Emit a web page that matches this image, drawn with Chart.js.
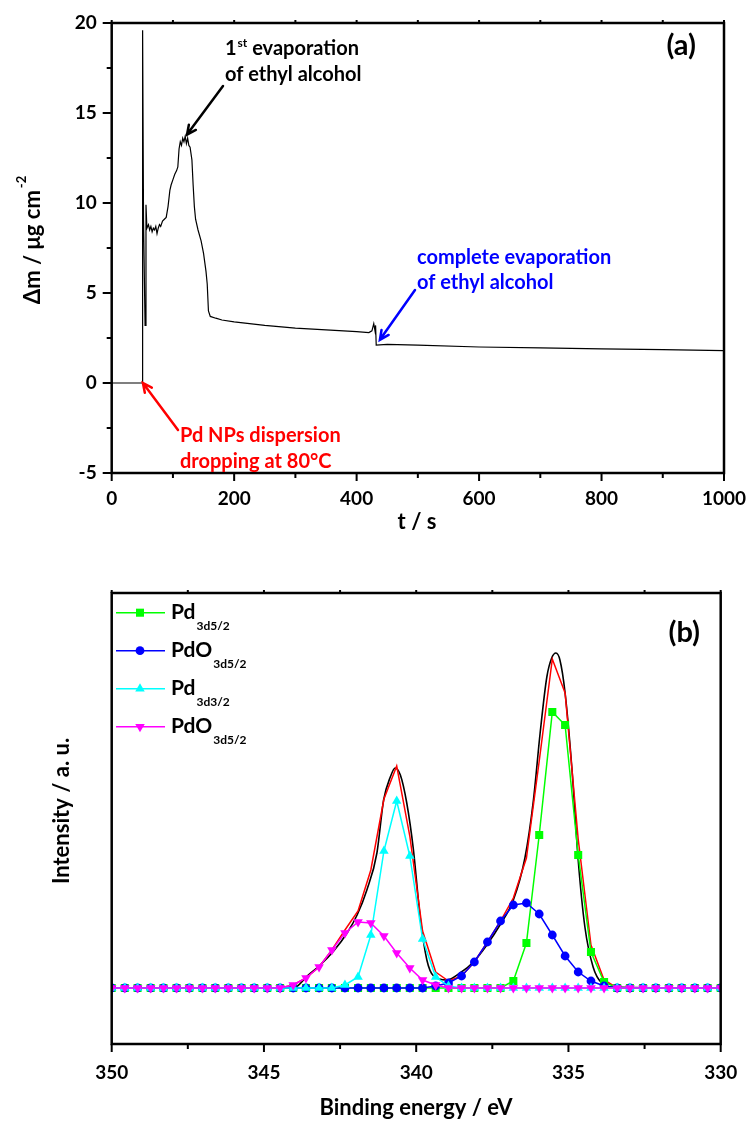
<!DOCTYPE html>
<html>
<head>
<meta charset="utf-8">
<script src="https://cdn.jsdelivr.net/npm/chart.js@4.4.0/dist/chart.umd.min.js"></script>
<style>
  html, body { margin: 0; padding: 0; background: #fff; }
  body { width: 746px; height: 1137px; position: relative; overflow: hidden; }
  canvas { position: absolute; left: 0; }
  #chartA { top: 0; }
  #chartB { top: 550px; }
</style>
</head>
<body>
<canvas id="chartA" width="746" height="550"></canvas>
<canvas id="chartB" width="746" height="587"></canvas>
<script>
const FONT = 'Lato, "Open Sans", "DejaVu Sans", sans-serif';

// (a) mass change during drop casting
const massTime = [0, 49.5, 50.5, 52, 54.5, 56, 57.5, 60, 62, 64, 66, 68, 70, 72, 74, 76, 78, 80,
  83, 86, 89, 92, 95, 97, 100, 103, 106, 108, 110, 112, 114, 116, 118, 120, 122, 124, 126, 128,
  131, 133, 135, 137, 141, 146, 150, 154, 156, 158, 161, 170, 180, 200, 250, 300, 350, 400, 420, 425,
  428, 430, 431, 432, 450, 500, 600, 700, 800, 900, 1000];
const massDelta = [0, 0, 19.6, 9, 3.2, 9.9, 8.6, 8.8, 8.5, 8.7, 8.4, 8.6, 8.5, 8.7, 8.3, 8.6, 8.8, 8.7,
  9.0, 9.1, 9.2, 9.8, 10.7, 11.0, 11.3, 11.6, 11.8, 12.0, 13.0, 13.4, 13.2, 13.6, 13.4, 13.7, 13.3, 13.6, 13.2, 13.1,
  12.4, 11.0, 9.8, 9.1, 8.5, 7.9, 7.2, 6.2, 5.5, 4.0, 3.7, 3.6, 3.5, 3.4, 3.2, 3.05, 2.95, 2.85, 2.8, 2.9,
  3.3, 2.9, 3.2, 2.1, 2.15, 2.1, 2.0, 1.95, 1.9, 1.85, 1.8];
const timeMajor = [0, 200, 400, 600, 800, 1000];
const timeMinor = [100, 300, 500, 700, 900];
const massMajor = [-5, 0, 5, 10, 15, 20];
const massMinor = [-2.5, 2.5, 7.5, 12.5, 17.5];

// (b) XPS Pd 3d
const energyGrid = [350.00, 349.57, 349.15, 348.72, 348.30, 347.87, 347.45, 347.02, 346.60, 346.17,
  345.74, 345.32, 344.89, 344.47, 344.04, 343.62, 343.19, 342.77, 342.34, 341.91,
  341.49, 341.06, 340.64, 340.21, 339.79, 339.36, 338.94, 338.51, 338.09, 337.66,
  337.23, 336.81, 336.38, 335.96, 335.53, 335.11, 334.68, 334.26, 333.83, 333.40,
  332.98, 332.55, 332.13, 331.70, 331.28, 330.85, 330.43, 330.00];
const pd3d52 = [0, 0, 0, 0, 0, 0, 0, 0, 0, 0, 0, 0, 0, 0, 0, 0, 0, 0, 0, 0, 0, 0, 0, 0, 0, 0, 0, 0, 0, 0,
  0, 7, 45, 153, 276, 263, 133, 36, 6, 0, 0, 0, 0, 0, 0, 0, 0, 0];
const pdo3d52 = [0, 0, 0, 0, 0, 0, 0, 0, 0, 0, 0, 0, 0, 0, 0, 0, 0, 0, 0, 0, 0, 0, 0, 0, 0, 2, 5, 12, 26, 46,
  67, 83, 85, 74, 53, 32, 16, 7, 2, 0, 0, 0, 0, 0, 0, 0, 0, 0];
const pd3d32 = [0, 0, 0, 0, 0, 0, 0, 0, 0, 0, 0, 0, 0, 0, 0, 0, 0, 0, 3, 11, 53, 137, 187, 132, 49, 11, 2, 0, 0, 0,
  0, 0, 0, 0, 0, 0, 0, 0, 0, 0, 0, 0, 0, 0, 0, 0, 0, 0];
const pdo3d32 = [0, 0, 0, 0, 0, 0, 0, 0, 0, 0, 0, 0, 0, 0, 3, 10, 21, 38, 55, 66, 65, 52, 35, 20, 8, 3, 0, 0, 0, 0,
  0, 0, 0, 0, 0, 0, 0, 0, 0, 0, 0, 0, 0, 0, 0, 0, 0, 0];
const fitEnvelope = [0, 0, 0, 0, 0, 0, 0, 0, 0, 0, 0, 0, 0, 0, 3, 10, 21, 38, 58, 77, 118, 189, 222, 152, 57, 16, 7, 12, 26, 46,
  67, 90, 130, 227, 329, 295, 149, 43, 8, 0, 0, 0, 0, 0, 0, 0, 0, 0];
const measEnergy = [350.00, 344.13, 343.90, 343.58, 343.15, 342.71, 342.27, 341.94, 341.62, 341.29,
  341.07, 340.85, 340.69, 340.52, 340.31, 340.09, 339.87, 339.65, 339.43, 338.99,
  338.56, 338.12, 337.68, 337.25, 336.81, 336.43, 336.15, 335.93, 335.71, 335.55,
  335.41, 335.28, 335.11, 334.89, 334.68, 334.46, 334.19, 333.91, 333.53, 330.00];
const measCounts = [0, 0, 2, 12, 23, 37, 55, 73, 98, 135,
  188, 211, 220, 213, 185, 138, 71, 28, 12, 8,
  15, 26, 43, 63, 88, 130, 188, 255, 311, 330,
  335, 328, 295, 221, 128, 61, 21, 5, 1, 0];
const energyMajor = [330, 335, 340, 345, 350];
const energyMinor = [332.5, 337.5, 342.5, 347.5];

const legendMain = ['Pd', 'PdO', 'Pd', 'PdO'];
const legendSub = ['3d5/2', '3d5/2', '3d3/2', '3d5/2'];

function toPoints(xs, ys) {
  return xs.map((v, i) => ({ x: v, y: ys[i] }));
}

function arrow(ctx, x0, y0, x1, y1, color) {
  const ang = Math.atan2(y1 - y0, x1 - x0);
  const h = 10;
  ctx.strokeStyle = color;
  ctx.lineWidth = 2.5;
  ctx.lineCap = 'round';
  ctx.beginPath();
  ctx.moveTo(x0, y0);
  ctx.lineTo(x1, y1);
  ctx.moveTo(x1 - h * Math.cos(ang - 0.45), y1 - h * Math.sin(ang - 0.45));
  ctx.lineTo(x1, y1);
  ctx.lineTo(x1 - h * Math.cos(ang + 0.45), y1 - h * Math.sin(ang + 0.45));
  ctx.stroke();
}

// frame box + tick marks drawn from the scales
const frameTicks = {
  id: 'frameTicks',
  afterDatasetsDraw(chart, args, o) {
    const { ctx, chartArea: a, scales: { x, y } } = chart;
    ctx.save();
    ctx.strokeStyle = '#000';
    ctx.lineWidth = 2;
    ctx.beginPath();
    o.xMajor.forEach(v => {
      const p = x.getPixelForValue(v);
      ctx.moveTo(p, a.bottom); ctx.lineTo(p, a.bottom + 8);
      ctx.moveTo(p, a.top); ctx.lineTo(p, a.top - 3);
    });
    o.xMinor.forEach(v => {
      const p = x.getPixelForValue(v);
      ctx.moveTo(p, a.bottom); ctx.lineTo(p, a.bottom + 5);
      ctx.moveTo(p, a.top); ctx.lineTo(p, a.top - 3);
    });
    (o.yMajor || []).forEach(v => {
      const p = y.getPixelForValue(v);
      ctx.moveTo(a.left, p); ctx.lineTo(a.left - 9, p);
    });
    (o.yMinor || []).forEach(v => {
      const p = y.getPixelForValue(v);
      ctx.moveTo(a.left, p); ctx.lineTo(a.left - 5, p);
    });
    ctx.stroke();
    ctx.lineWidth = 2.5;
    ctx.strokeRect(a.left, a.top, a.right - a.left, a.bottom - a.top);
    ctx.restore();
  }
};

const annotateA = {
  id: 'annotateA',
  afterDraw(chart) {
    const { ctx, scales: { x, y } } = chart;
    ctx.save();
    ctx.textAlign = 'left';
    ctx.textBaseline = 'middle';

    // 1st evaporation
    ctx.fillStyle = '#000';
    ctx.font = `bold 20px ${FONT}`;
    let cx = 225;
    ctx.fillText('1', cx, 49);
    cx += ctx.measureText('1').width + 1;
    ctx.font = `bold 12px ${FONT}`;
    ctx.fillText('st', cx, 43);
    cx += ctx.measureText('st').width;
    ctx.font = `bold 20px ${FONT}`;
    ctx.fillText(' evaporation', cx, 49);
    ctx.fillText('of ethyl alcohol', 225, 75);
    arrow(ctx, 223, 86, x.getPixelForValue(123), y.getPixelForValue(13.8), '#000');

    // complete evaporation
    ctx.fillStyle = '#0000ff';
    ctx.fillText('complete evaporation', 417, 258);
    ctx.fillText('of ethyl alcohol', 417, 283);
    arrow(ctx, 415, 290, x.getPixelForValue(438), y.getPixelForValue(2.4), '#0000ff');

    // dropping
    ctx.fillStyle = '#ff0000';
    ctx.fillText('Pd NPs dispersion', 180, 436);
    ctx.fillText('dropping at 80\u00b0C', 180, 462);
    arrow(ctx, 178, 430, x.getPixelForValue(51), y.getPixelForValue(0), '#ff0000');

    // panel label
    ctx.fillStyle = '#000';
    ctx.textAlign = 'right';
    ctx.font = `bold 29px ${FONT}`;
    ctx.fillText('(a)', 696, 46);

    // axis titles
    ctx.textAlign = 'center';
    ctx.font = `bold 22px ${FONT}`;
    ctx.fillText('t / s', 417, 522);

    ctx.save();
    ctx.font = `bold 22px ${FONT}`;
    const main = '\u0394m / \u03bcg cm';
    const w = ctx.measureText(main).width;
    ctx.font = `bold 13px ${FONT}`;
    const ws = ctx.measureText('-2').width;
    const total = w + 2 + ws;
    ctx.translate(40, 240 + total / 2);
    ctx.rotate(-Math.PI / 2);
    ctx.textAlign = 'left';
    ctx.textBaseline = 'alphabetic';
    ctx.font = `bold 22px ${FONT}`;
    ctx.fillText(main, 0, 0);
    ctx.font = `bold 13px ${FONT}`;
    ctx.fillText('-2', w + 2, -14);
    ctx.restore();

    ctx.restore();
  }
};

function drawMarker(ctx, style, r, rot, px, py) {
  ctx.beginPath();
  if (style === 'rect') {
    const s = Math.SQRT1_2 * r;
    ctx.rect(px - s, py - s, 2 * s, 2 * s);
  } else if (style === 'circle') {
    ctx.arc(px, py, r, 0, Math.PI * 2);
  } else {
    let rad = (rot || 0) * Math.PI / 180;
    ctx.moveTo(px + Math.sin(rad) * r, py - Math.cos(rad) * r);
    rad += Math.PI * 2 / 3;
    ctx.lineTo(px + Math.sin(rad) * r, py - Math.cos(rad) * r);
    rad += Math.PI * 2 / 3;
    ctx.lineTo(px + Math.sin(rad) * r, py - Math.cos(rad) * r);
    ctx.closePath();
  }
  ctx.fill();
}

const annotateB = {
  id: 'annotateB',
  afterDraw(chart) {
    const { ctx } = chart;
    ctx.save();
    // legend
    for (let k = 0; k < 4; k++) {
      const ds = chart.data.datasets.find(d => d.legendRow === k);
      const ry = 62.7 + k * 38;
      ctx.strokeStyle = ds.borderColor;
      ctx.lineWidth = 1.5;
      ctx.beginPath();
      ctx.moveTo(116, ry);
      ctx.lineTo(165, ry);
      ctx.stroke();
      ctx.fillStyle = ds.pointBackgroundColor;
      drawMarker(ctx, ds.pointStyle, ds.pointRadius, ds.pointRotation, 140, ry);
      ctx.fillStyle = '#000';
      ctx.textAlign = 'left';
      ctx.textBaseline = 'middle';
      ctx.font = `bold 21px ${FONT}`;
      ctx.fillText(legendMain[k], 171, ry);
      const w = ctx.measureText(legendMain[k]).width;
      ctx.font = `bold 12px ${FONT}`;
      ctx.fillText(legendSub[k], 171 + w + 1, ry + 13.5);
    }

    ctx.fillStyle = '#000';
    ctx.textAlign = 'right';
    ctx.textBaseline = 'middle';
    ctx.font = `bold 29px ${FONT}`;
    ctx.fillText('(b)', 700, 83);

    ctx.textAlign = 'center';
    ctx.font = `bold 22px ${FONT}`;
    ctx.fillText('Binding energy / eV', 416, 558);

    ctx.save();
    ctx.translate(62, 261);
    ctx.rotate(-Math.PI / 2);
    ctx.fillText('Intensity / a. u.', 0, 0);
    ctx.restore();
    ctx.restore();
  }
};

const tickFont = { family: FONT, size: 19, weight: 'bold' };

function fixX(h) {
  return s => { s.height = h; s.paddingLeft = 0; s.paddingRight = 0; };
}
function fixY(w) {
  return s => { s.width = w; s.paddingTop = 0; s.paddingBottom = 0; };
}

new Chart(document.getElementById('chartA'), {
  type: 'line',
  data: {
    datasets: [{
      data: toPoints(massTime, massDelta),
      borderColor: '#000',
      borderWidth: 1.2,
      pointRadius: 0,
      tension: 0
    }]
  },
  options: {
    responsive: false,
    animation: false,
    events: [],
    layout: { padding: { left: 0, right: 22, top: 23, bottom: 0 } },
    plugins: {
      legend: { display: false },
      tooltip: { enabled: false },
      frameTicks: { xMajor: timeMajor, xMinor: timeMinor, yMajor: massMajor, yMinor: massMinor }
    },
    scales: {
      x: {
        type: 'linear', min: 0, max: 1000,
        afterFit: fixX(77),
        grid: { display: false, drawTicks: false },
        border: { display: false },
        ticks: { stepSize: 200, padding: 14, color: '#000', font: tickFont, maxRotation: 0,
          callback: v => String(v) }
      },
      y: {
        min: -5, max: 20,
        afterFit: fixY(111.7),
        grid: { display: false, drawTicks: false },
        border: { display: false },
        ticks: { stepSize: 5, padding: 15, color: '#000', font: tickFont }
      }
    }
  },
  plugins: [frameTicks, annotateA]
});

new Chart(document.getElementById('chartB'), {
  type: 'line',
  data: {
    datasets: [
      {
        label: 'PdO 3d5/2 (2)', legendRow: 3, order: 0,
        data: toPoints(energyGrid, pdo3d32),
        borderColor: '#ff00ff', borderWidth: 1.5,
        pointStyle: 'triangle', pointRotation: 180, pointRadius: 5.5,
        pointBackgroundColor: '#ff00ff', pointBorderColor: '#ff00ff', pointBorderWidth: 0
      },
      {
        label: 'Pd 3d3/2', legendRow: 2, order: 1,
        data: toPoints(energyGrid, pd3d32),
        borderColor: '#00ffff', borderWidth: 1.5,
        pointStyle: 'triangle', pointRotation: 0, pointRadius: 5.5,
        pointBackgroundColor: '#00ffff', pointBorderColor: '#00ffff', pointBorderWidth: 0
      },
      {
        label: 'PdO 3d5/2', legendRow: 1, order: 2,
        data: toPoints(energyGrid, pdo3d52),
        borderColor: '#0000ff', borderWidth: 1.5,
        pointStyle: 'circle', pointRadius: 4.4,
        pointBackgroundColor: '#0000ff', pointBorderColor: '#0000ff', pointBorderWidth: 0
      },
      {
        label: 'Pd 3d5/2', legendRow: 0, order: 3,
        data: toPoints(energyGrid, pd3d52),
        borderColor: '#00ff00', borderWidth: 1.5,
        pointStyle: 'rect', pointRadius: 5.7,
        pointBackgroundColor: '#00ff00', pointBorderColor: '#00ff00', pointBorderWidth: 0
      },
      {
        label: 'fit', order: 4,
        data: toPoints(energyGrid, fitEnvelope),
        borderColor: '#ff0000', borderWidth: 1.5,
        pointRadius: 0, tension: 0
      },
      {
        label: 'measured', order: 5,
        data: toPoints(measEnergy, measCounts),
        borderColor: '#000', borderWidth: 1.6,
        pointRadius: 0, cubicInterpolationMode: 'monotone'
      }
    ]
  },
  options: {
    responsive: false,
    animation: false,
    events: [],
    layout: { padding: { left: 0, right: 25.3, top: 43, bottom: 0 } },
    plugins: {
      legend: { display: false },
      tooltip: { enabled: false },
      frameTicks: { xMajor: energyMajor, xMinor: energyMinor }
    },
    scales: {
      x: {
        type: 'linear', min: 330, max: 350, reverse: true,
        afterFit: fixX(93),
        grid: { display: false, drawTicks: false },
        border: { display: false },
        ticks: { stepSize: 5, padding: 17.5, color: '#000', font: tickFont, maxRotation: 0 }
      },
      y: {
        min: -56, max: 395,
        afterFit: fixY(111.7),
        grid: { display: false, drawTicks: false },
        border: { display: false },
        ticks: { display: false }
      }
    }
  },
  plugins: [frameTicks, annotateB]
});
</script>
</body>
</html>
